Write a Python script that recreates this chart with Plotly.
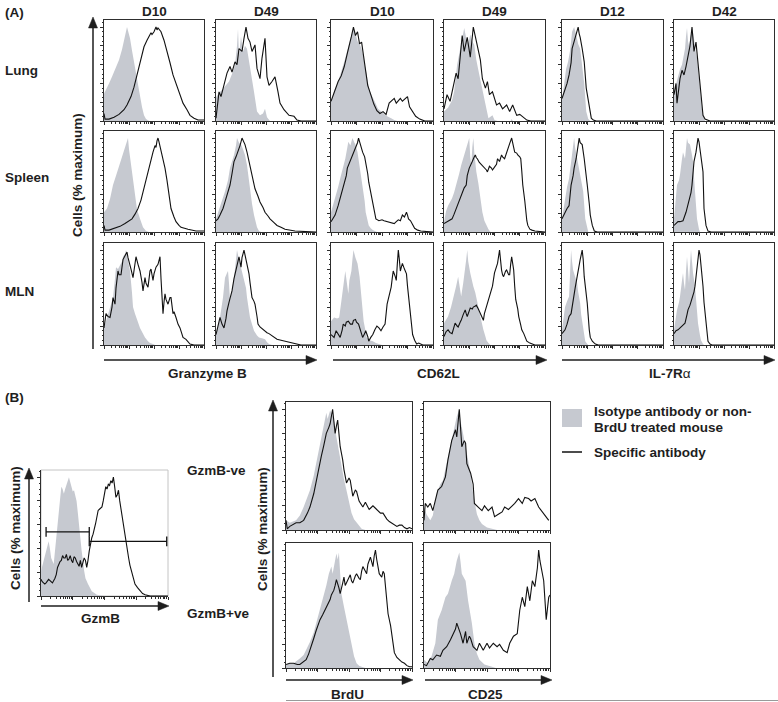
import math
import plotly.graph_objects as go

# ---------------- DATA (x: channel 0-100 across the plot, y: % of maximum) ----------------
# Panel A, row "Lung"
lung_gzmb_d10_iso = [(0,29),(3,35),(5,40),(8,47),(10,52),(13,60),(15,65),(18,76),(20,85),(22,94),(23,100),(24,96),(26,88),(28,75),(30,63),(32,50),(35,31),(38,15),(40,6),(42,2),(45,0),(100,0)]
lung_gzmb_d10_spec = [(0,8),(1,2),(5,2),(10,4),(15,7),(20,12),(23,17),(27,26),(30,36),(34,52),(37,67),(40,79),(43,86),(45,91),(47,94),(48,92),(50,95),(52,100),(53,97),(54,99),(57,95),(60,86),(62,77),(66,62),(69,49),(72,40),(74,33),(77,25),(79,19),(83,12),(86,6),(90,3),(94,1),(100,1)]
lung_gzmb_d49_iso = [(0,25),(3,30),(6,33),(10,38),(13,42),(16,50),(19,60),(21,80),(22,98),(23,70),(25,90),(27,74),(29,80),(31,77),(33,65),(35,50),(38,31),(41,10),(44,6),(47,8),(49,13),(51,4),(54,0),(100,0)]
lung_gzmb_d49_spec = [(0,3),(3,31),(5,26),(8,38),(11,51),(14,58),(16,52),(19,63),(21,60),(23,77),(26,74),(28,88),(30,100),(32,88),(34,84),(36,74),(39,81),(41,56),(44,45),(46,67),(49,88),(51,47),(53,38),(56,42),(59,47),(62,31),(64,19),(68,12),(73,6),(78,5),(81,1),(85,0),(100,0)]
lung_cd62l_d10_iso = [(0,21),(3,32),(7,42),(10,52),(13,63),(16,75),(18,83),(20,92),(22,99),(24,93),(26,85),(28,82),(30,77),(32,68),(33,60),(35,50),(36,42),(38,32),(41,24),(44,18),(46,13),(49,10),(52,8),(55,5),(59,3),(62,1),(65,0),(100,0)]
lung_cd62l_d10_spec = [(0,21),(4,33),(7,42),(10,48),(13,58),(16,72),(18,80),(20,90),(22,100),(24,91),(26,95),(28,82),(30,84),(32,68),(34,50),(36,38),(39,28),(42,18),(45,11),(48,8),(51,10),(54,7),(57,19),(60,22),(62,24),(64,19),(66,22),(68,24),(70,21),(73,24),(75,26),(77,15),(80,10),(83,5),(87,2),(92,0),(100,0)]
lung_cd62l_d49_iso = [(0,10),(4,14),(8,22),(10,31),(13,60),(15,72),(17,84),(19,95),(20,99),(22,88),(24,82),(26,92),(28,85),(30,81),(32,65),(35,49),(38,35),(40,24),(42,13),(44,3),(46,5),(48,6),(50,1),(53,0),(66,0),(67,2),(68,0),(100,0)]
lung_cd62l_d49_spec = [(0,13),(3,28),(6,21),(8,31),(12,51),(14,45),(16,70),(18,91),(20,74),(23,89),(26,68),(29,100),(31,90),(33,81),(36,65),(38,45),(41,35),(43,42),(45,28),(48,31),(52,17),(55,19),(58,13),(62,17),(65,10),(68,17),(72,6),(75,7),(77,5),(80,2),(82,1),(86,0),(100,0)]
lung_il7r_d12_iso = [(0,22),(2,40),(4,55),(6,63),(8,75),(10,95),(12,100),(14,92),(16,82),(18,77),(20,60),(22,40),(24,10),(26,2),(28,0),(100,0)]
lung_il7r_d12_spec = [(0,24),(3,33),(5,40),(7,49),(9,62),(10,77),(12,84),(13,88),(15,95),(16,100),(17,93),(18,89),(20,77),(22,63),(24,35),(26,20),(27,13),(29,3),(31,1),(34,0),(100,0)]
lung_il7r_d42_iso = [(0,31),(2,40),(4,49),(6,55),(8,60),(10,70),(11,77),(12,90),(13,99),(14,85),(15,80),(17,92),(18,100),(20,88),(21,78),(23,67),(25,45),(26,28),(28,12),(29,6),(31,0),(100,0)]
lung_il7r_d42_spec = [(0,28),(2,40),(3,19),(5,35),(6,45),(8,54),(10,49),(12,58),(13,63),(15,74),(16,80),(18,100),(19,85),(20,74),(22,84),(24,60),(25,45),(27,24),(29,6),(31,2),(33,1),(36,0),(100,0)]

# Panel A, row "Spleen"
spleen_gzmb_d10_iso = [(0,21),(3,25),(6,35),(9,50),(12,60),(15,70),(18,82),(21,92),(23,97),(24,100),(25,88),(27,72),(29,53),(31,35),(33,24),(36,14),(39,5),(42,1),(45,0),(100,0)]
spleen_gzmb_d10_spec = [(0,7),(1,2),(5,2),(11,4),(16,6),(21,9),(25,12),(28,14),(31,19),(34,25),(37,34),(39,43),(42,55),(44,64),(46,72),(49,85),(51,92),(52,90),(53,97),(54,100),(55,96),(57,87),(59,78),(61,68),(63,55),(64,46),(66,33),(67,25),(70,16),(72,11),(75,7),(77,5),(84,3),(92,1),(100,1)]
spleen_gzmb_d49_iso = [(0,14),(2,20),(4,28),(7,36),(9,43),(12,55),(14,68),(16,75),(18,82),(20,92),(21,100),(23,95),(25,93),(27,88),(29,82),(31,71),(33,55),(34,43),(36,30),(38,18),(40,9),(41,5),(43,1),(45,0),(100,0)]
spleen_gzmb_d49_spec = [(0,12),(2,14),(4,18),(7,25),(9,32),(12,42),(14,50),(16,62),(18,75),(20,80),(22,85),(24,92),(26,100),(28,96),(29,93),(31,85),(33,75),(35,66),(36,60),(38,52),(39,46),(42,38),(44,32),(47,26),(49,21),(52,17),(54,14),(58,10),(61,7),(65,5),(69,3),(79,1),(100,0)]
spleen_cd62l_d10_iso = [(0,21),(2,28),(4,36),(7,48),(9,57),(12,70),(14,78),(16,90),(17,96),(19,92),(21,100),(23,95),(24,93),(26,85),(27,78),(29,65),(31,50),(33,33),(34,21),(36,12),(37,7),(39,4),(41,2),(45,0),(100,0)]
spleen_cd62l_d10_spec = [(0,11),(2,14),(4,18),(7,28),(9,36),(11,43),(13,50),(15,60),(16,68),(18,73),(20,78),(22,83),(24,89),(26,95),(27,100),(29,92),(31,85),(33,80),(34,75),(36,62),(37,53),(39,42),(41,32),(43,20),(44,14),(47,12),(50,13),(52,12),(55,11),(57,11),(60,10),(62,9),(64,11),(66,13),(68,12),(70,18),(72,16),(74,21),(75,18),(76,14),(78,12),(80,7),(82,4),(85,2),(88,1),(100,0)]
spleen_cd62l_d49_iso = [(0,11),(2,22),(4,28),(6,32),(8,36),(10,42),(13,53),(15,62),(17,71),(19,78),(21,85),(22,89),(24,95),(25,100),(26,80),(27,71),(28,90),(29,100),(30,85),(32,64),(34,52),(35,43),(37,30),(38,21),(40,12),(42,7),(44,3),(46,0),(100,0)]
spleen_cd62l_d49_spec = [(0,9),(3,11),(6,13),(8,14),(10,19),(12,25),(14,30),(15,32),(17,40),(18,43),(20,47),(22,50),(23,60),(25,68),(27,72),(28,75),(30,80),(31,82),(32,79),(33,78),(35,74),(37,72),(38,70),(40,69),(42,66),(43,64),(45,70),(47,68),(48,66),(50,69),(52,72),(53,78),(55,75),(57,82),(58,80),(60,78),(62,85),(63,89),(65,94),(67,100),(68,95),(70,85),(72,84),(73,82),(75,80),(76,78),(77,65),(78,50),(80,33),(81,21),(82,12),(83,7),(85,3),(87,2),(90,1),(100,0)]
spleen_il7r_d12_iso = [(0,14),(3,36),(5,48),(7,57),(9,75),(10,85),(12,100),(13,90),(15,78),(17,68),(18,61),(20,50),(21,43),(23,14),(25,3),(26,0),(100,0)]
spleen_il7r_d12_spec = [(0,14),(3,21),(5,25),(7,28),(9,50),(11,60),(12,68),(14,78),(15,85),(17,100),(18,95),(20,93),(22,78),(24,62),(25,50),(27,30),(28,18),(30,7),(32,1),(35,0),(100,0)]
spleen_il7r_d42_iso = [(0,14),(2,35),(3,50),(5,55),(6,61),(8,78),(9,85),(11,78),(12,92),(13,100),(14,95),(16,93),(18,82),(19,75),(21,43),(23,14),(25,3),(26,0),(100,0)]
spleen_il7r_d42_spec = [(0,7),(2,9),(4,11),(6,11),(9,12),(12,21),(15,32),(17,42),(18,50),(20,75),(22,85),(23,93),(24,100),(25,96),(27,82),(28,75),(29,64),(30,25),(32,7),(34,1),(37,0),(100,0)]

# Panel A, row "MLN"
mln_gzmb_d10_iso = [(0,18),(2,25),(4,33),(7,42),(9,50),(11,70),(12,82),(14,80),(16,85),(18,88),(19,93),(21,96),(22,100),(24,90),(26,78),(28,55),(29,40),(31,33),(32,29),(34,24),(36,18),(38,14),(41,8),(44,4),(46,2),(49,1),(51,0),(100,0)]
mln_gzmb_d10_spec = [(0,18),(2,33),(4,30),(6,29),(8,40),(9,50),(11,43),(12,60),(14,78),(15,74),(17,74),(18,85),(19,90),(21,94),(23,98),(24,92),(26,82),(27,80),(29,71),(30,80),(32,93),(34,85),(36,78),(38,66),(39,57),(41,71),(42,65),(44,61),(46,78),(47,80),(49,68),(50,75),(52,82),(54,85),(56,93),(57,70),(59,33),(60,45),(61,54),(62,48),(64,43),(66,50),(67,50),(69,33),(70,35),(72,29),(74,22),(76,18),(79,8),(82,6),(84,4),(86,1),(90,0),(100,0)]
mln_gzmb_d49_iso = [(0,11),(2,20),(4,29),(7,50),(9,71),(11,76),(12,78),(13,65),(14,47),(16,58),(18,71),(20,90),(21,100),(23,90),(24,86),(26,78),(28,71),(30,60),(31,50),(33,38),(34,29),(36,22),(38,15),(41,10),(43,8),(46,7),(49,6),(51,3),(53,1),(56,0),(100,0)]
mln_gzmb_d49_spec = [(0,11),(2,22),(4,29),(6,22),(8,18),(10,28),(11,36),(13,45),(16,57),(18,70),(19,75),(21,85),(23,93),(25,82),(26,92),(28,100),(30,90),(31,82),(33,75),(34,66),(36,50),(38,46),(39,43),(41,30),(42,22),(44,19),(46,17),(48,15),(51,13),(53,12),(56,10),(58,8),(61,6),(65,5),(69,4),(74,2),(79,1),(85,0),(100,0)]
mln_cd62l_d10_iso = [(0,25),(3,29),(6,28),(8,29),(10,45),(11,54),(13,70),(14,78),(15,70),(16,62),(17,54),(18,68),(20,78),(21,90),(22,100),(24,92),(26,86),(28,72),(29,61),(31,40),(32,25),(34,14),(35,8),(38,5),(41,4),(44,2),(47,1),(50,0),(100,0)]
mln_cd62l_d10_spec = [(0,11),(3,8),(5,15),(7,12),(9,8),(11,16),(12,22),(14,20),(15,24),(17,25),(19,22),(21,22),(22,26),(24,27),(25,24),(27,22),(29,14),(31,8),(33,12),(34,15),(36,9),(37,4),(39,8),(41,11),(43,16),(45,20),(47,18),(49,15),(51,19),(53,22),(55,43),(57,52),(59,61),(60,70),(61,78),(63,72),(64,68),(65,85),(66,100),(67,90),(68,78),(69,82),(70,86),(72,80),(74,75),(75,62),(77,43),(79,25),(80,11),(82,5),(84,1),(86,2),(88,1),(90,0),(100,0)]
mln_cd62l_d49_iso = [(0,23),(2,27),(4,30),(7,40),(9,48),(12,62),(14,72),(16,58),(17,51),(19,65),(21,79),(22,90),(23,100),(24,88),(26,76),(28,66),(29,62),(31,55),(32,51),(34,40),(36,30),(38,20),(39,16),(41,9),(42,5),(44,2),(46,0),(100,0)]
mln_cd62l_d49_spec = [(0,9),(2,14),(4,16),(6,13),(8,12),(10,19),(11,23),(13,20),(14,19),(16,24),(17,26),(19,32),(21,37),(22,33),(23,30),(25,36),(26,39),(28,38),(29,40),(31,41),(32,42),(34,38),(36,33),(38,29),(39,26),(40,33),(42,40),(44,46),(45,51),(47,56),(48,62),(50,76),(52,82),(53,86),(55,100),(56,88),(57,79),(58,74),(59,72),(61,78),(62,79),(64,74),(65,74),(66,85),(67,93),(68,86),(69,79),(70,62),(71,48),(73,38),(74,30),(76,21),(77,16),(79,12),(81,7),(82,4),(85,2),(87,1),(90,0),(100,0)]
mln_il7r_d12_iso = [(0,16),(2,30),(3,40),(5,46),(7,51),(8,75),(9,100),(10,88),(11,79),(13,72),(15,65),(16,56),(18,44),(19,32),(21,16),(23,4),(25,1),(26,0),(100,0)]
mln_il7r_d12_spec = [(0,12),(3,16),(5,22),(7,30),(9,33),(11,48),(13,60),(15,72),(17,86),(18,90),(20,100),(21,90),(22,72),(24,55),(25,44),(27,16),(28,8),(30,4),(33,1),(36,0),(100,0)]
mln_il7r_d42_iso = [(0,16),(2,30),(3,37),(5,45),(6,51),(8,68),(9,76),(10,65),(11,58),(12,78),(13,93),(14,80),(15,65),(16,85),(17,100),(18,88),(19,76),(21,62),(22,51),(23,38),(24,23),(26,10),(27,5),(29,1),(30,0),(100,0)]
mln_il7r_d42_spec = [(0,12),(2,15),(4,16),(6,18),(8,19),(10,21),(11,23),(13,32),(14,37),(16,42),(18,48),(20,56),(21,62),(22,72),(23,83),(24,92),(25,100),(26,95),(27,85),(28,76),(29,62),(30,45),(32,23),(33,10),(34,4),(36,1),(38,0),(100,0)]

# Panel B
gzmb_iso = [(0,21),(2,30),(4,38),(6,46),(7,40),(8,32),(10,27),(11,38),(12,52),(14,72),(15,80),(16,92),(17,90),(18,86),(19,90),(20,94),(21,97),(22,100),(23,96),(24,92),(25,88),(26,89),(27,85),(28,80),(29,70),(30,58),(32,38),(34,21),(35,15),(37,10),(40,4),(44,1),(50,0),(100,0)]
gzmb_spec = [(0,14),(1,12),(3,10),(4,11),(6,14),(8,12),(9,11),(11,15),(12,18),(13,24),(14,27),(15,29),(16,30),(17,34),(18,32),(19,32),(20,35),(21,30),(22,31),(23,34),(24,30),(25,28),(26,33),(27,32),(28,29),(29,27),(30,25),(31,30),(32,24),(33,28),(34,32),(35,30),(36,24),(37,30),(38,38),(40,49),(41,52),(43,61),(44,66),(45,72),(46,73),(48,75),(49,80),(51,92),(52,90),(53,94),(54,93),(55,97),(56,95),(57,100),(58,92),(59,83),(60,85),(61,89),(62,80),(64,66),(66,49),(67,42),(69,32),(70,26),(72,18),(73,14),(74,10),(76,7),(78,4),(80,2),(82,1),(86,0),(100,0)]
gzmb_gate_neg_x = [4, 38]
gzmb_gate_neg_y = 54
gzmb_gate_pos_x = [38, 99]
gzmb_gate_pos_y = 46

brdu_neg_iso = [(0,8),(3,6),(8,8),(11,12),(14,19),(16,25),(19,33),(22,45),(24,55),(26,66),(28,77),(30,88),(32,97),(33,92),(35,99),(37,95),(38,91),(40,77),(42,65),(44,52),(46,42),(48,33),(50,22),(52,14),(54,9),(56,6),(58,3),(60,1),(63,0),(100,0)]
brdu_neg_spec = [(0,8),(1,1),(3,3),(6,5),(8,6),(11,6),(14,8),(17,14),(19,19),(22,30),(24,41),(26,51),(28,61),(30,70),(32,80),(34,85),(35,88),(36,94),(37,100),(38,90),(39,80),(40,86),(41,91),(42,80),(43,69),(45,58),(46,50),(48,39),(50,43),(51,41),(52,33),(53,28),(55,33),(56,32),(58,24),(59,22),(61,19),(63,23),(64,21),(66,17),(67,18),(69,20),(71,18),(73,16),(75,14),(77,14),(80,9),(82,7),(85,5),(88,3),(90,4),(92,4),(94,2),(96,1),(98,2),(100,1)]
brdu_pos_iso = [(0,3),(3,4),(6,4),(9,6),(11,8),(14,11),(16,15),(19,22),(22,30),(24,38),(26,46),(28,53),(30,61),(32,70),(34,80),(36,86),(37,80),(38,86),(39,90),(40,97),(41,92),(42,98),(43,80),(44,63),(46,52),(48,41),(50,30),(52,18),(54,10),(56,4),(58,2),(60,1),(63,0),(100,0)]
brdu_pos_spec = [(0,3),(3,4),(6,4),(9,3),(11,3),(14,5),(16,7),(18,12),(20,18),(22,25),(24,32),(26,38),(27,41),(29,45),(31,49),(33,53),(35,58),(36,62),(38,66),(39,70),(40,75),(42,68),(43,63),(45,72),(46,77),(47,70),(48,72),(50,76),(51,79),(52,74),(53,72),(55,78),(56,80),(58,76),(59,75),(60,82),(61,86),(63,82),(64,80),(65,88),(67,94),(68,90),(69,86),(70,95),(71,100),(72,92),(73,86),(74,80),(76,77),(77,82),(78,80),(79,69),(80,60),(81,46),(83,36),(84,27),(86,13),(88,9),(90,7),(92,5),(94,4),(96,2),(98,1),(100,1)]
cd25_neg_iso = [(0,19),(2,13),(5,8),(7,12),(10,30),(13,38),(15,41),(18,55),(21,69),(23,80),(25,88),(26,94),(28,100),(29,90),(31,80),(33,69),(35,58),(37,47),(39,30),(42,13),(44,8),(46,5),(50,2),(55,1),(58,0),(100,0)]
cd25_neg_spec = [(0,8),(1,22),(3,19),(5,22),(7,16),(9,24),(11,33),(14,36),(17,44),(19,58),(22,74),(24,80),(25,83),(26,77),(27,90),(28,100),(29,85),(30,69),(32,74),(33,72),(34,55),(37,47),(39,38),(40,22),(43,19),(46,16),(48,20),(51,16),(54,19),(56,11),(59,13),(62,15),(64,19),(67,17),(70,20),(72,22),(75,26),(78,22),(80,27),(83,26),(85,24),(88,26),(91,19),(93,16),(96,12),(99,8)]
cd25_pos_iso = [(0,7),(3,4),(6,10),(9,21),(11,41),(14,49),(17,60),(19,63),(22,74),(24,80),(26,91),(27,95),(28,98),(29,90),(30,80),(32,76),(33,74),(35,57),(38,38),(40,21),(42,12),(44,7),(48,3),(54,1),(57,0),(100,0)]
cd25_pos_spec = [(0,3),(2,2),(5,8),(7,7),(10,11),(13,10),(15,15),(18,18),(21,24),(23,29),(25,33),(26,38),(28,33),(29,29),(31,21),(33,31),(34,21),(36,27),(37,25),(39,18),(42,15),(44,21),(47,15),(50,21),(52,17),(55,21),(58,18),(60,20),(63,15),(66,13),(68,21),(71,27),(74,29),(76,49),(78,60),(80,52),(82,69),(84,57),(86,74),(88,69),(90,85),(91,100),(92,91),(94,80),(95,74),(97,41),(99,60),(100,62)]

# Labels
col_titles = ["D10", "D49", "D10", "D49", "D12", "D42"]
row_titles = ["Lung", "Spleen", "MLN"]
marker_titles = ["Granzyme B", "CD62L", "IL-7R"]
b_row_titles = ["GzmB-ve", "GzmB+ve"]
b_col_titles = ["BrdU", "CD25"]
legend_labels = ["Isotype antibody or non-", "BrdU treated mouse", "Specific antibody"]
y_title = "Cells (% maximum)"

# ---------------- STYLE / LAYOUT ----------------
W, H = 778, 702
FILL = '#c6c9d0'
LINE = '#111111'
AX = '#2e2e2e'
TXT = '#1e1e1e'
FONT = 'Liberation Sans, Arial, Helvetica, sans-serif'
FS = 13.5

def fx(x):
    return x / W

def fy(y):
    return 1 - y / H

A_cols = [(104, 204), (216, 316), (331, 433), (444, 545), (562, 663), (674, 774)]
A_rows = [(20, 121), (131, 232), (243, 345)]
B_gzmb_box = (41, 168, 470, 596)
B_cols = [(286, 412), (424, 550)]
B_rows = [(402, 530), (543, 668)]

A_series = [
    [(lung_gzmb_d10_iso, lung_gzmb_d10_spec), (lung_gzmb_d49_iso, lung_gzmb_d49_spec),
     (lung_cd62l_d10_iso, lung_cd62l_d10_spec), (lung_cd62l_d49_iso, lung_cd62l_d49_spec),
     (lung_il7r_d12_iso, lung_il7r_d12_spec), (lung_il7r_d42_iso, lung_il7r_d42_spec)],
    [(spleen_gzmb_d10_iso, spleen_gzmb_d10_spec), (spleen_gzmb_d49_iso, spleen_gzmb_d49_spec),
     (spleen_cd62l_d10_iso, spleen_cd62l_d10_spec), (spleen_cd62l_d49_iso, spleen_cd62l_d49_spec),
     (spleen_il7r_d12_iso, spleen_il7r_d12_spec), (spleen_il7r_d42_iso, spleen_il7r_d42_spec)],
    [(mln_gzmb_d10_iso, mln_gzmb_d10_spec), (mln_gzmb_d49_iso, mln_gzmb_d49_spec),
     (mln_cd62l_d10_iso, mln_cd62l_d10_spec), (mln_cd62l_d49_iso, mln_cd62l_d49_spec),
     (mln_il7r_d12_iso, mln_il7r_d12_spec), (mln_il7r_d42_iso, mln_il7r_d42_spec)],
]
B_series = [
    [(brdu_neg_iso, brdu_neg_spec), (cd25_neg_iso, cd25_neg_spec)],
    [(brdu_pos_iso, brdu_pos_spec), (cd25_pos_iso, cd25_pos_spec)],
]

fig = go.Figure()
layout = dict(width=W, height=H, autosize=False, margin=dict(l=0, r=0, t=0, b=0),
              paper_bgcolor='white', plot_bgcolor='white', showlegend=False,
              font=dict(family=FONT, size=FS, color=TXT))

decades = [0, 25, 50, 75, 100]
minor_x = [d * 25 + 25 * math.log10(k) for d in range(4) for k in range(2, 10)]

panel_count = [0]


def add_panel(box, iso, spec, ymax=107.5, mirror=True):
    panel_count[0] += 1
    n = panel_count[0]
    sfx = '' if n == 1 else str(n)
    x0, x1, y0, y1 = box
    layout['xaxis' + sfx] = dict(
        domain=[fx(x0), fx(x1)], range=[0, 100], anchor='y' + sfx,
        showline=True, linecolor=AX, linewidth=1, mirror=mirror,
        ticks='outside', ticklen=3, tickwidth=1, tickcolor=AX, tickvals=decades,
        minor=dict(tickvals=minor_x, ticks='outside', ticklen=1.5, tickcolor=AX, tickwidth=0.8),
        showticklabels=False, showgrid=False, zeroline=False, fixedrange=True)
    layout['yaxis' + sfx] = dict(
        domain=[fy(y1), fy(y0)], range=[0, ymax], anchor='x' + sfx,
        showline=True, linecolor=AX, linewidth=1, mirror=mirror,
        ticks='outside', ticklen=3, tickwidth=1, tickcolor=AX, tickvals=[0, 20, 40, 60, 80, 100],
        minor=dict(dtick=5, ticks='outside', ticklen=1.5, tickcolor=AX, tickwidth=0.8),
        showticklabels=False, showgrid=False, zeroline=False, fixedrange=True)
    fig.add_trace(go.Scatter(x=[p[0] for p in iso], y=[p[1] for p in iso], mode='lines',
                             fill='tozeroy', fillcolor=FILL, line=dict(width=0, color=FILL),
                             hoverinfo='skip', xaxis='x' + sfx, yaxis='y' + sfx))
    fig.add_trace(go.Scatter(x=[p[0] for p in spec], y=[p[1] for p in spec], mode='lines',
                             line=dict(width=1.1, color=LINE), hoverinfo='skip',
                             xaxis='x' + sfx, yaxis='y' + sfx))
    return sfx


for r, (ry0, ry1) in enumerate(A_rows):
    for c, (cx0, cx1) in enumerate(A_cols):
        iso, spec = A_series[r][c]
        add_panel((cx0, cx1, ry0, ry1), iso, spec)

g = add_panel(B_gzmb_box, gzmb_iso, gzmb_spec, ymax=106, mirror=False)
for gx, gyv in ((gzmb_gate_neg_x, gzmb_gate_neg_y), (gzmb_gate_pos_x, gzmb_gate_pos_y)):
    fig.add_trace(go.Scatter(x=gx, y=[gyv, gyv], mode='lines+markers',
                             line=dict(width=1.3, color=LINE),
                             marker=dict(symbol='line-ns-open', size=7, line=dict(width=1.3, color=LINE)),
                             hoverinfo='skip', xaxis='x' + g, yaxis='y' + g))

for r, (ry0, ry1) in enumerate(B_rows):
    for c, (cx0, cx1) in enumerate(B_cols):
        iso, spec = B_series[r][c]
        add_panel((cx0, cx1, ry0, ry1), iso, spec, ymax=106)

# ---------------- SHAPES (arrows, frames, legend) ----------------
shapes = []
ARW = '#1e1e1e'


def vline_arrow(x, ytip, ybot):
    shapes.append(dict(type='line', xref='paper', yref='paper', x0=fx(x), x1=fx(x),
                       y0=fy(ybot), y1=fy(ytip + 8), line=dict(color=ARW, width=1.5)))
    shapes.append(dict(type='path', xref='paper', yref='paper',
                       path=f'M {fx(x-4.5)},{fy(ytip+11)} L {fx(x)},{fy(ytip)} L {fx(x+4.5)},{fy(ytip+11)} Z',
                       fillcolor=ARW, line=dict(color=ARW, width=0.5)))


def hline_arrow(y, xstart, xtip):
    shapes.append(dict(type='line', xref='paper', yref='paper', x0=fx(xstart), x1=fx(xtip - 8),
                       y0=fy(y), y1=fy(y), line=dict(color=ARW, width=1.5)))
    shapes.append(dict(type='path', xref='paper', yref='paper',
                       path=f'M {fx(xtip-11)},{fy(y-4.5)} L {fx(xtip)},{fy(y)} L {fx(xtip-11)},{fy(y+4.5)} Z',
                       fillcolor=ARW, line=dict(color=ARW, width=0.5)))


vline_arrow(93, 17, 349)
hline_arrow(360, 104, 317)
hline_arrow(360, 333, 547)
hline_arrow(360, 562, 775)
vline_arrow(29, 468, 602)
hline_arrow(606, 41, 169)
vline_arrow(273, 400, 677)
hline_arrow(680, 286, 413)
hline_arrow(680, 425, 552)

# light frame of the GzmB panel (top/right)
shapes.append(dict(type='rect', xref='paper', yref='paper', x0=fx(41), x1=fx(168), y0=fy(596), y1=fy(470),
                   line=dict(color='#c4c4c4', width=1), layer='below'))
# bottom rule
shapes.append(dict(type='line', xref='paper', yref='paper', x0=fx(286), x1=fx(778), y0=fy(700.5), y1=fy(700.5),
                   line=dict(color='#9a9a9a', width=1)))
# legend
shapes.append(dict(type='rect', xref='paper', yref='paper', x0=fx(562), x1=fx(582), y0=fy(427), y1=fy(409),
                   fillcolor=FILL, line=dict(width=0)))
shapes.append(dict(type='line', xref='paper', yref='paper', x0=fx(562), x1=fx(582), y0=fy(452), y1=fy(452),
                   line=dict(color=LINE, width=1.5)))
layout['shapes'] = shapes

# ---------------- TEXT ----------------
ann = []


def text(t, x, y, xanchor='center', angle=0):
    ann.append(dict(text=t, x=fx(x), y=fy(y), xref='paper', yref='paper', xanchor=xanchor, yanchor='middle',
                    showarrow=False, textangle=angle, font=dict(family=FONT, size=FS, color=TXT)))


text('<b>(A)</b>', 3, 12, 'left')
text('<b>(B)</b>', 3, 397, 'left')
for t, (cx0, cx1) in zip(col_titles, A_cols):
    text(f'<b>{t}</b>', (cx0 + cx1) / 2, 11)
for t, yy in zip(row_titles, [70, 177, 291]):
    text(f'<b>{t}</b>', 3, yy, 'left')
text(f'<b>{marker_titles[0]}</b>', 208, 374)
text(f'<b>{marker_titles[1]}</b>', 438, 374)
text(f'<b>{marker_titles[2]}</b>α', 670, 374)
text(f'<b>{y_title}</b>', 77, 175, angle=-90)
text(f'<b>{y_title}</b>', 15, 528, angle=-90)
text(f'<b>{y_title}</b>', 262, 529, angle=-90)
text('<b>GzmB</b>', 100, 618)
text(f'<b>{b_row_titles[0]}</b>', 185, 470, 'left')
text(f'<b>{b_row_titles[1]}</b>', 185, 613, 'left')
text(f'<b>{b_col_titles[0]}</b>', 347, 694)
text(f'<b>{b_col_titles[1]}</b>', 485, 694)
text(f'<b>{legend_labels[0]}</b>', 592, 412, 'left')
text(f'<b>{legend_labels[1]}</b>', 592, 427, 'left')
text(f'<b>{legend_labels[2]}</b>', 592, 452, 'left')
layout['annotations'] = ann

fig.update_layout(**layout)
fig.write_html("out.html", config={'displayModeBar': False},
               post_script="document.body.style.margin='0';document.body.style.overflow='hidden';")
